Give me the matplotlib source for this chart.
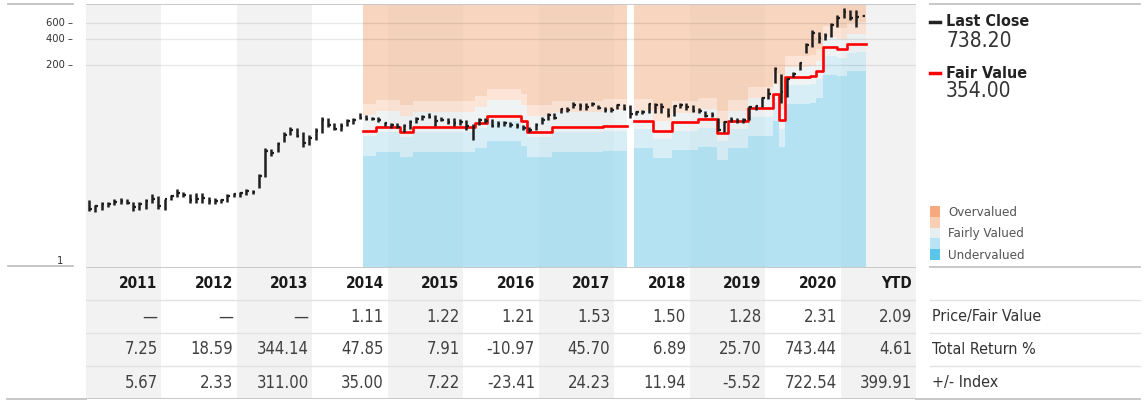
import matplotlib
matplotlib.use('Agg')
import matplotlib.pyplot as plt
from matplotlib import transforms
from matplotlib.lines import Line2D
from matplotlib.patches import Rectangle
import numpy as np

plt.rcParams['font.family'] = ['Liberation Sans Narrow', 'DejaVu Sans']
plt.rcParams['font.stretch'] = 'condensed'

W, H = 1146, 405

# monthly price bars, Jan 2011 .. Apr 2021
START_YEAR = 2011
HIGHS = [5.8, 5.1, 5.5, 5.5, 6.0, 6.1, 6.0, 5.5, 5.5, 6.0, 6.8, 6.4,
         6.0, 6.6, 7.7, 7.2, 6.8, 7.0, 7.0, 6.3, 6.1, 6.0, 6.8, 7.0,
         7.2, 7.7, 7.5, 11.5, 22.8, 22.2, 26.6, 34.5, 39.4, 38.3, 34.5, 32.0,
         38.3, 51.3, 49.9, 43.8, 43.8, 48.7, 49.9, 57.0, 54.1, 51.3, 51.3, 45.0,
         43.8, 43.8, 42.7, 47.4, 51.3, 54.1, 57.0, 54.1, 51.3, 49.9, 49.9, 48.7,
         47.4, 42.7, 50.0, 50.0, 48.7, 46.2, 46.2, 45.1, 43.8, 41.6, 39.4, 43.8,
         51.3, 57.0, 57.0, 65.0, 66.6, 76.0, 74.1, 74.1, 76.0, 70.3, 66.6, 66.6,
         72.2, 72.2, 70.3, 60.1, 61.7, 74.1, 74.1, 74.1, 65.0, 70.3, 74.1, 74.1,
         70.3, 65.0, 60.1, 58.5, 50.0, 46.0, 51.3, 50.0, 50.0, 68.5, 70.3, 86.7,
         110, 191, 158, 143, 167, 217, 358, 504, 478, 466, 606, 747,
         898, 851, 851, 750]
LOWS = [4.3, 4.2, 4.5, 4.8, 5.1, 5.2, 5.2, 4.3, 4.5, 4.6, 5.4, 4.6,
        4.5, 5.8, 6.3, 6.3, 5.4, 5.4, 5.4, 5.2, 5.2, 5.4, 5.5, 6.3,
        6.3, 6.6, 6.8, 7.9, 10.6, 18.3, 20.4, 26.6, 32.0, 30.3, 23.3, 24.6,
        28.1, 33.6, 39.4, 36.5, 35.5, 40.5, 43.0, 48.5, 47.4, 47.4, 45.0, 40.5,
        38.3, 38.3, 34.5, 37.4, 43.8, 47.4, 49.9, 40.5, 46.2, 42.7, 40.5, 41.6,
        36.5, 28.1, 42.0, 44.0, 39.4, 39.4, 40.5, 39.4, 38.3, 36.5, 34.5, 36.5,
        42.7, 47.4, 48.7, 57.0, 58.5, 65.0, 61.7, 61.7, 68.5, 63.3, 58.5, 58.5,
        63.3, 61.7, 50.0, 54.1, 55.6, 57.0, 57.0, 57.0, 51.3, 52.7, 65.0, 61.7,
        58.5, 57.0, 51.3, 51.3, 35.5, 34.6, 45.0, 43.8, 43.8, 47.4, 61.7, 66.7,
        83, 126, 74, 87, 147, 176, 275, 323, 358, 387, 420, 545,
        690, 655, 545, 728]
CLOSES = [4.6, 4.9, 5.3, 5.3, 5.5, 5.6, 5.4, 4.8, 5.2, 5.7, 5.9, 5.0,
          5.9, 6.4, 7.0, 6.6, 5.8, 6.0, 6.2, 5.6, 5.6, 5.8, 6.5, 6.8,
          6.9, 7.3, 7.2, 11.0, 21.0, 20.0, 25.0, 32.0, 37.0, 31.0, 26.0, 30.0,
          36.0, 48.0, 42.0, 38.0, 41.0, 46.0, 48.0, 50.0, 48.5, 49.0, 47.0, 44.0,
          42.0, 40.0, 40.5, 45.0, 49.0, 52.0, 51.0, 46.0, 48.0, 45.0, 44.0, 45.5,
          41.0, 40.0, 48.0, 46.0, 41.0, 43.0, 44.0, 42.0, 41.0, 39.0, 37.0, 42.0,
          48.0, 54.0, 50.0, 63.0, 61.0, 70.0, 68.0, 66.0, 72.0, 65.0, 62.0, 62.5,
          70.0, 64.0, 56.0, 58.0, 59.0, 72.0, 70.0, 66.0, 54.0, 68.0, 70.0, 67.0,
          60.0, 60.0, 53.0, 54.0, 37.0, 45.0, 48.0, 46.0, 47.0, 66.0, 69.0, 84.0,
          95, 180, 100, 140, 160, 210, 345, 470, 410, 430, 580, 700,
          800, 690, 720, 738.2]

# fair value steps (start dates in decimal years), two segments with a data gap
FV1_DATES = [2014.67, 2014.84, 2015.16, 2015.33, 2016.15, 2016.32, 2016.77, 2016.84, 2017.17, 2017.85]
FV1_VALUES = [35.8, 39.8, 34.9, 39.2, 44.2, 53.0, 46.6, 34.9, 39.2, 40.9]
FV1_END = 2018.17
FV2_DATES = [2018.26, 2018.51, 2018.77, 2019.11, 2019.36, 2019.51, 2019.78, 2020.11, 2020.19,
             2020.27, 2020.59, 2020.68, 2020.77, 2020.95, 2021.09, 2021.21]
FV2_VALUES = [46.6, 35.8, 44.5, 48.2, 34.1, 46.5, 64.5, 93.9, 47.4,
              147, 151, 173, 320, 306, 349, 354]
FV2_END = 2021.34

# price / fair value band edges (multiples of fair value) per segment
BANDS1 = [0.52, 0.88, 1.5, 2.0]
BANDS2 = [0.49, 0.8, 1.3, 1.75]
BAND_COLORS = ['#94d7ef', '#c6e7f3', '#e9eeef', '#fbdbc7', '#f6c4a4']

YEARS = ['2011', '2012', '2013', '2014', '2015', '2016', '2017', '2018', '2019', '2020', 'YTD']
PRICE_FV = [None, None, None, 1.11, 1.22, 1.21, 1.53, 1.50, 1.28, 2.31, 2.09]
TOTAL_RETURN = [7.25, 18.59, 344.14, 47.85, 7.91, -10.97, 45.70, 6.89, 25.70, 743.44, 4.61]
PLUS_INDEX = [5.67, 2.33, 311.00, 35.00, 7.22, -23.41, 24.23, 11.94, -5.52, 722.54, 399.91]
ROW_LABELS = ['Price/Fair Value', 'Total Return %', '+/- Index']

LAST_CLOSE = 738.20
FAIR_VALUE = 354.00
YTICKS = [200, 400, 600]

LEGEND_LABELS = ['Overvalued', '', 'Fairly Valued', '', 'Undervalued']
LEGEND_COLORS = ['#f5a97c', '#f9cfb4', '#e8eff2', '#b8e4f4', '#5bc5ea']


def fx(px):
    return px / W


def fy(py):
    return 1 - py / H


def fig_line(x0, x1, y, color='#cccccc', lw=1.0):
    fig.add_artist(Line2D([fx(x0), fx(x1)], [fy(y), fy(y)], transform=fig.transFigure,
                          color=color, lw=lw))


fig = plt.figure(figsize=(W / 100, H / 100), dpi=100)
ax = fig.add_axes([fx(86), fy(267), 830 / W, 263 / H])
tax = fig.add_axes([fx(86), fy(399), 830 / W, 132 / H])

n_cols = len(YEARS)
for a in (ax, tax):
    for i in range(n_cols):
        if i % 2 == 0:
            a.axvspan(START_YEAR + i, START_YEAR + i + 1, color='#f2f2f2', lw=0, zorder=0)
    a.set_xlim(START_YEAR, START_YEAR + n_cols)
    a.axis('off')

ax.set_yscale('log')
ax.set_ylim(1, 1000)

# valuation bands
for dates, values, end, mults in [(FV1_DATES, FV1_VALUES, FV1_END, BANDS1),
                                  (FV2_DATES, FV2_VALUES, FV2_END, BANDS2)]:
    xs = np.array(dates + [end])
    fv = np.array(values + [values[-1]])
    edges = [np.ones_like(fv)] + [fv * m for m in mults] + [np.full_like(fv, 1000)]
    for k in range(5):
        ax.fill_between(xs, edges[k], edges[k + 1], step='post', color=BAND_COLORS[k],
                        alpha=0.7, lw=0, zorder=1)
    ax.step(xs, fv, where='post', color='#ff0000', lw=1.9, zorder=3)

for t in YTICKS:
    ax.axhline(t, color='black', alpha=0.09, lw=0.9, zorder=2)
ax.axhline(1000, color='#c8c8c8', lw=1.4, zorder=2)

# price bars
n = len(HIGHS)
mx = START_YEAR + (np.arange(n) + 0.5) / 12
ax.vlines(mx, LOWS, HIGHS, color='#1e1e1e', lw=1.8, zorder=4)
ax.hlines(CLOSES, mx, mx + 0.035, color='#1e1e1e', lw=1.6, zorder=4)

# y tick labels
trans = transforms.blended_transform_factory(fig.transFigure, ax.transData)
for t in YTICKS:
    ax.text(fx(73), t, f'{t} \u2013', ha='right', va='center', fontsize=8,
            color='#333333', transform=trans)
ax.text(fx(63), 1.02, '1', ha='right', va='bottom', fontsize=8, color='#333333',
        transform=trans)

# table
tax.set_ylim(0, 4)
for yv in [3, 2, 1]:
    tax.axhline(yv, color='#e2e2e2', lw=1.0)
tax.axhline(4, color='#c8c8c8', lw=1.4)
tax.axhline(0, color='#c8c8c8', lw=1.4)
rows = [PRICE_FV, TOTAL_RETURN, PLUS_INDEX]
for i, yr in enumerate(YEARS):
    xr = START_YEAR + i + 1 - 0.05
    tax.text(xr, 3.5, yr, ha='right', va='center', fontsize=11, fontweight='bold',
             color='#1a1a1a')
    for r, vals in enumerate(rows):
        v = vals[i]
        s = '\u2014' if v is None else f'{v:.2f}'
        tax.text(xr, 2.5 - r, s, ha='right', va='center', fontsize=12, color='#404040')

for r, lab in enumerate(ROW_LABELS):
    fig.text(fx(932), fy(317 + 33 * r), lab, ha='left', va='center', fontsize=11.5,
             color='#333333')

# lines outside the plot
fig_line(8, 73, 4, '#bbbbbb', 1.2)
fig_line(8, 73, 266, '#bbbbbb', 1.2)
fig_line(930, 1140, 4, '#c8c8c8', 1.4)
fig_line(930, 1140, 267, '#c8c8c8', 1.4)
for yv in [300, 333, 366]:
    fig_line(930, 1140, yv, '#e2e2e2', 1.0)
fig_line(7, 86, 399, '#c8c8c8', 1.4)
fig_line(916, 1140, 399, '#c8c8c8', 1.4)

# legend
fig.add_artist(Line2D([fx(930), fx(940)], [fy(22), fy(22)], transform=fig.transFigure,
                      color='#222222', lw=2.5))
fig.text(fx(946), fy(22), 'Last Close', ha='left', va='center', fontsize=11.5,
         fontweight='bold', color='#222222')
fig.text(fx(946), fy(41), f'{LAST_CLOSE:.2f}', ha='left', va='center', fontsize=15,
         color='#333333')
fig.add_artist(Line2D([fx(930), fx(940)], [fy(73), fy(73)], transform=fig.transFigure,
                      color='#ff0000', lw=2.5))
fig.text(fx(946), fy(73), 'Fair Value', ha='left', va='center', fontsize=11.5,
         fontweight='bold', color='#222222')
fig.text(fx(946), fy(91), f'{FAIR_VALUE:.2f}', ha='left', va='center', fontsize=15,
         color='#333333')

sq_top, sq_h = 206, 10.8
for k, (lab, col) in enumerate(zip(LEGEND_LABELS, LEGEND_COLORS)):
    y0 = sq_top + k * sq_h
    fig.add_artist(Rectangle((fx(930), fy(y0 + sq_h)), 10 / W, sq_h / H,
                             transform=fig.transFigure, color=col, lw=0))
    if lab:
        fig.text(fx(948), fy(y0 + sq_h / 2 + 1), lab, ha='left', va='center',
                 fontsize=9.5, color='#555555')

fig.savefig('out.png', dpi=100)
